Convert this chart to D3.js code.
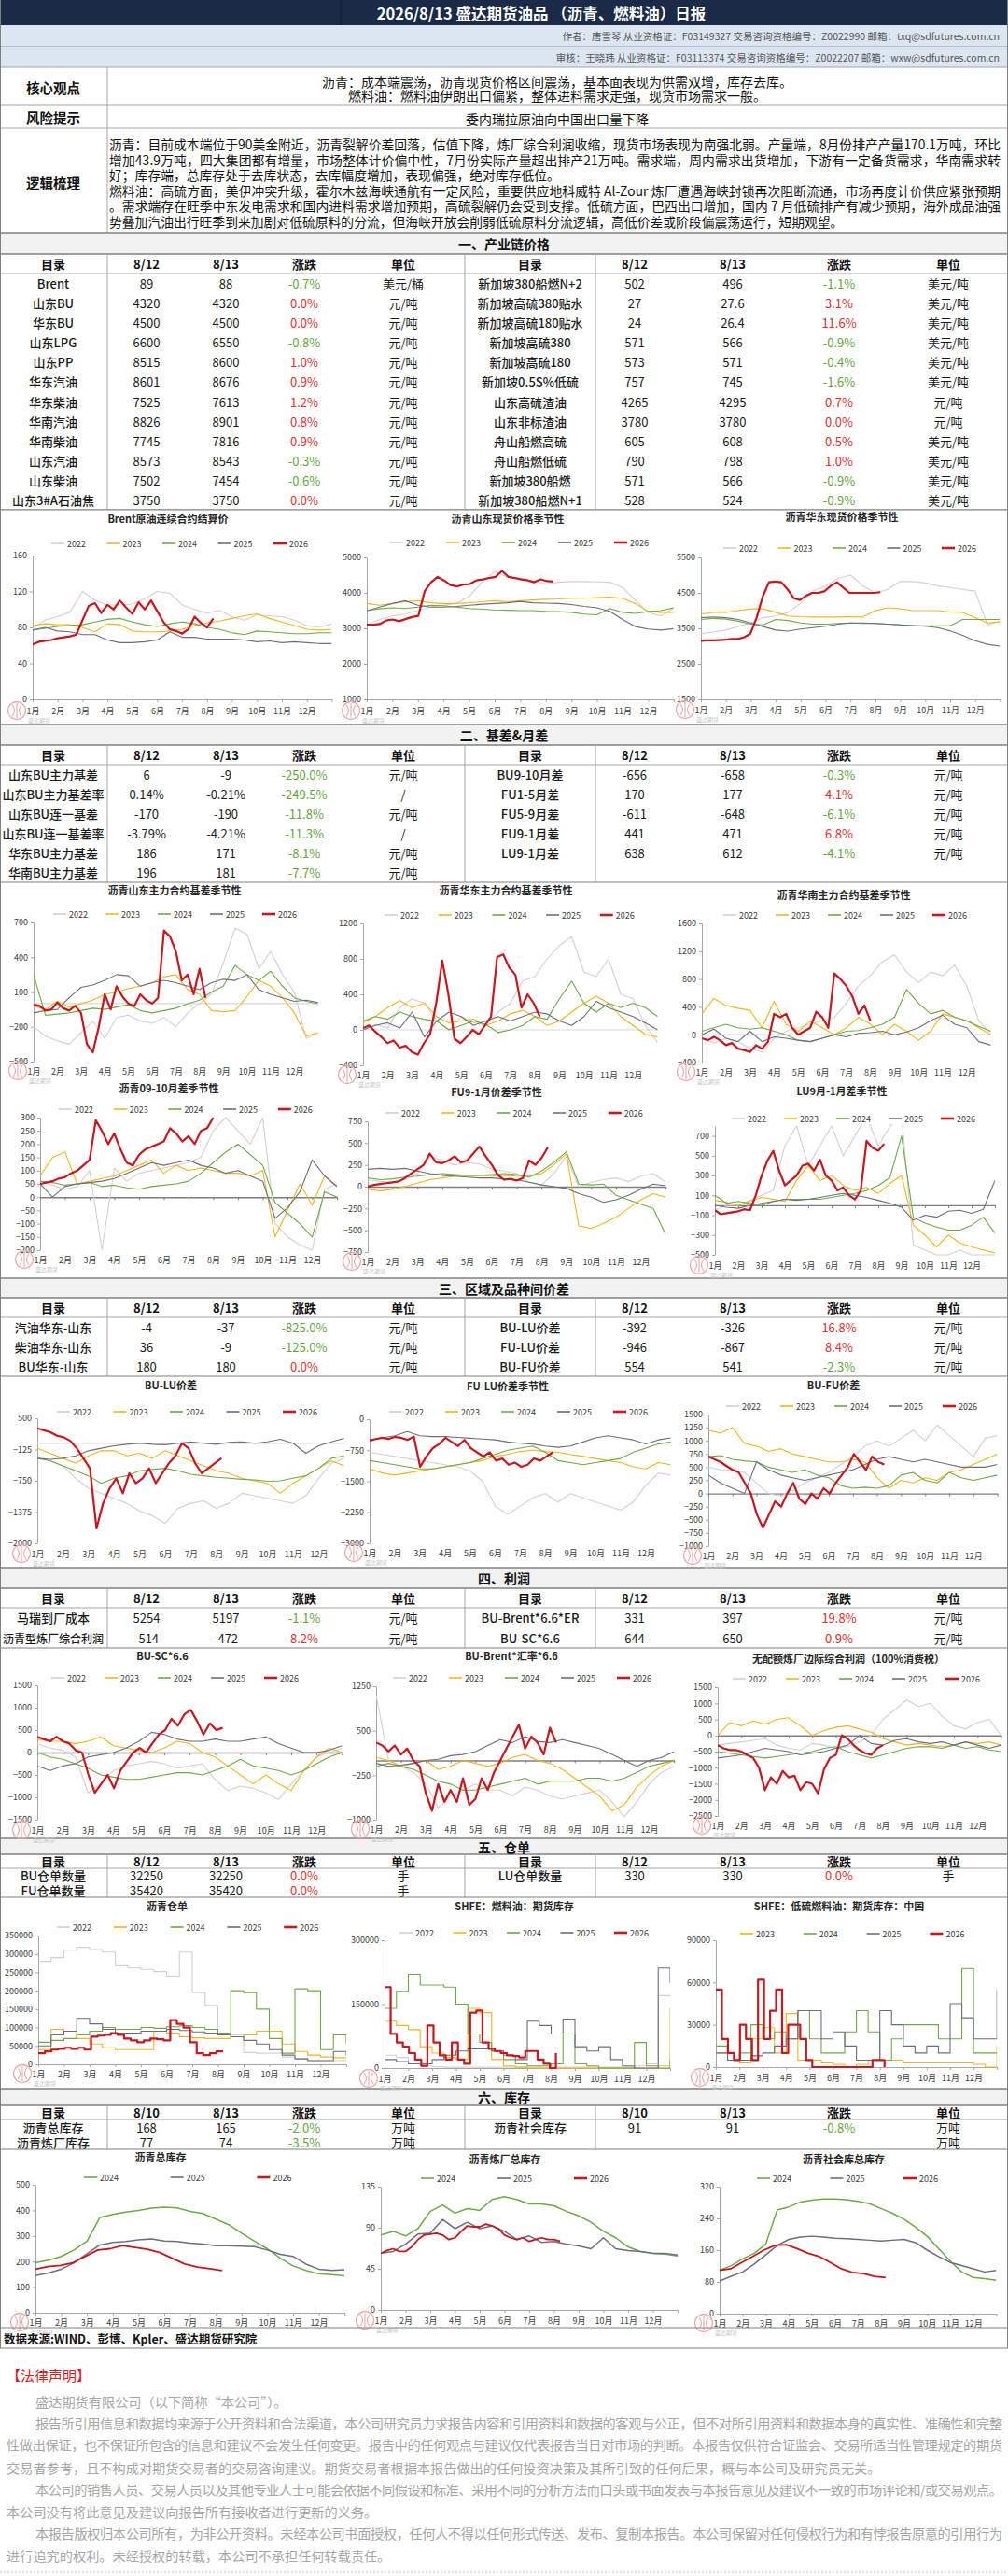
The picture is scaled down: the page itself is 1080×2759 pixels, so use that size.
<!DOCTYPE html>
<html>
<head>
<meta charset="utf-8">
<script src="https://cdn.jsdelivr.net/npm/d3@7"></script>
<style>
  body { margin: 0; background: #fff; }
  svg { display: block; }
  text { font-family: "Noto Sans CJK SC", "Noto Sans", sans-serif; }
</style>
</head>
<body>
<svg id="page" width="1080" height="2759"></svg>
<script>
// ---------- text ----------
var reportTitle = "2026/8/13  盛达期货油品 （沥青、燃料油）日报";
var authorLines = [
  "作者：唐雪琴  从业资格证：F03149327  交易咨询资格编号：Z0022990 邮箱：txq@sdfutures.com.cn",
  "审核：王晓玮  从业资格证：F03113374  交易咨询资格编号：Z0022207 邮箱：wxw@sdfutures.com.cn"
];
var coreView = [
  "沥青：成本端震荡，沥青现货价格区间震荡，基本面表现为供需双增，库存去库。",
  "燃料油：燃料油伊朗出口偏紧，整体进料需求走强，现货市场需求一般。"
];
var riskText = "委内瑞拉原油向中国出口量下降";
var logicLines = [
  "沥青：目前成本端位于90美金附近，沥青裂解价差回落，估值下降，炼厂综合利润收缩，现货市场表现为南强北弱。产量端，8月份排产产量170.1万吨，环比",
  "增加43.9万吨，四大集团都有增量，市场整体计价偏中性，7月份实际产量超出排产21万吨。需求端，周内需求出货增加，下游有一定备货需求，华南需求转",
  "好；库存端，总库存处于去库状态，去库幅度增加，表现偏强，绝对库存低位。",
  "燃料油：高硫方面，美伊冲突升级，霍尔木兹海峡通航有一定风险，重要供应地科威特 Al-Zour 炼厂遭遇海峡封锁再次阻断流通，市场再度计价供应紧张预期",
  "。需求端存在旺季中东发电需求和国内进料需求增加预期，高硫裂解仍会受到支撑。低硫方面，巴西出口增加，国内 7 月低硫排产有减少预期，海外成品油强",
  "势叠加汽油出行旺季到来加剧对低硫原料的分流，但海峡开放会削弱低硫原料分流逻辑，高低价差或阶段偏震荡运行，短期观望。"
];
var logicFull = [true, true, false, true, true, false];
var sourceText = "数据来源:WIND、彭博、Kpler、盛达期货研究院";
var legalTitle = "【法律声明】";
var legalLines = [
  "盛达期货有限公司（以下简称“本公司”）。",
  "报告所引用信息和数据均来源于公开资料和合法渠道，本公司研究员力求报告内容和引用资料和数据的客观与公正，但不对所引用资料和数据本身的真实性、准确性和完整",
  "性做出保证，也不保证所包含的信息和建议不会发生任何变更。报告中的任何观点与建议仅代表报告当日对市场的判断。本报告仅供符合证监会、交易所适当性管理规定的期货",
  "交易者参考，且不构成对期货交易者的交易咨询建议。期货交易者根据本报告做出的任何投资决策及其所引致的任何后果，概与本公司及研究员无关。",
  "本公司的销售人员、交易人员以及其他专业人士可能会依据不同假设和标准、采用不同的分析方法而口头或书面发表与本报告意见及建议不一致的市场评论和/或交易观点。",
  "本公司没有将此意见及建议向报告所有接收者进行更新的义务。",
  "本报告版权归本公司所有，为非公开资料。未经本公司书面授权，任何人不得以任何形式传送、发布、复制本报告。本公司保留对任何侵权行为和有悖报告原意的引用行为",
  "进行追究的权利。未经授权的转载，本公司不承担任何转载责任。"
];
var legalIndent = [true, true, false, false, true, false, true, false];
var legalFull = [false, true, true, false, true, false, true, false];

// ---------- tables ----------
var sectionTitles = ["一、产业链价格", "二、基差&月差", "三、区域及品种间价差", "四、利润", "五、仓单", "六、库存"];
var tableHeads = ["目录", "", "", "涨跌", "单位"];
var datesMain = ["8/12", "8/13"];
var datesStock = ["8/10", "8/13"];

var chainLeft = [
  ["Brent", "89", "88", "-0.7%", "美元/桶"],
  ["山东BU", "4320", "4320", "0.0%", "元/吨"],
  ["华东BU", "4500", "4500", "0.0%", "元/吨"],
  ["山东LPG", "6600", "6550", "-0.8%", "元/吨"],
  ["山东PP", "8515", "8600", "1.0%", "元/吨"],
  ["华东汽油", "8601", "8676", "0.9%", "元/吨"],
  ["华东柴油", "7525", "7613", "1.2%", "元/吨"],
  ["华南汽油", "8826", "8901", "0.8%", "元/吨"],
  ["华南柴油", "7745", "7816", "0.9%", "元/吨"],
  ["山东汽油", "8573", "8543", "-0.3%", "元/吨"],
  ["山东柴油", "7502", "7454", "-0.6%", "元/吨"],
  ["山东3#A石油焦", "3750", "3750", "0.0%", "元/吨"]
];
var chainRight = [
  ["新加坡380船燃N+2", "502", "496", "-1.1%", "美元/吨"],
  ["新加坡高硫380贴水", "27", "27.6", "3.1%", "美元/吨"],
  ["新加坡高硫180贴水", "24", "26.4", "11.6%", "美元/吨"],
  ["新加坡高硫380", "571", "566", "-0.9%", "美元/吨"],
  ["新加坡高硫180", "573", "571", "-0.4%", "美元/吨"],
  ["新加坡0.5S%低硫", "757", "745", "-1.6%", "美元/吨"],
  ["山东高硫渣油", "4265", "4295", "0.7%", "元/吨"],
  ["山东非标渣油", "3780", "3780", "0.0%", "元/吨"],
  ["舟山船燃高硫", "605", "608", "0.5%", "美元/吨"],
  ["舟山船燃低硫", "790", "798", "1.0%", "美元/吨"],
  ["新加坡380船燃", "571", "566", "-0.9%", "美元/吨"],
  ["新加坡380船燃N+1", "528", "524", "-0.9%", "美元/吨"]
];
var basisLeft = [
  ["山东BU主力基差", "6", "-9", "-250.0%", "元/吨"],
  ["山东BU主力基差率", "0.14%", "-0.21%", "-249.5%", "/"],
  ["山东BU连一基差", "-170", "-190", "-11.8%", "元/吨"],
  ["山东BU连一基差率", "-3.79%", "-4.21%", "-11.3%", "/"],
  ["华东BU主力基差", "186", "171", "-8.1%", "元/吨"],
  ["华南BU主力基差", "196", "181", "-7.7%", "元/吨"]
];
var basisRight = [
  ["BU9-10月差", "-656", "-658", "-0.3%", "元/吨"],
  ["FU1-5月差", "170", "177", "4.1%", "元/吨"],
  ["FU5-9月差", "-611", "-648", "-6.1%", "元/吨"],
  ["FU9-1月差", "441", "471", "6.8%", "元/吨"],
  ["LU9-1月差", "638", "612", "-4.1%", "元/吨"]
];
var spreadLeft = [
  ["汽油华东-山东", "-4", "-37", "-825.0%", "元/吨"],
  ["柴油华东-山东", "36", "-9", "-125.0%", "元/吨"],
  ["BU华东-山东", "180", "180", "0.0%", "元/吨"]
];
var spreadRight = [
  ["BU-LU价差", "-392", "-326", "16.8%", "元/吨"],
  ["FU-LU价差", "-946", "-867", "8.4%", "元/吨"],
  ["BU-FU价差", "554", "541", "-2.3%", "元/吨"]
];
var profitLeft = [
  ["马瑞到厂成本", "5254", "5197", "-1.1%", "元/吨"],
  ["沥青型炼厂综合利润", "-514", "-472", "8.2%", "元/吨"]
];
var profitRight = [
  ["BU-Brent*6.6*ER", "331", "397", "19.8%", "元/吨"],
  ["BU-SC*6.6", "644", "650", "0.9%", "元/吨"]
];
var warrantLeft = [
  ["BU仓单数量", "32250", "32250", "0.0%", "手"],
  ["FU仓单数量", "35420", "35420", "0.0%", "手"]
];
var warrantRight = [
  ["LU仓单数量", "330", "330", "0.0%", "手"]
];
var stockLeft = [
  ["沥青总库存", "168", "165", "-2.0%", "万吨"],
  ["沥青炼厂库存", "77", "74", "-3.5%", "万吨"]
];
var stockRight = [
  ["沥青社会库存", "91", "91", "-0.8%", "万吨"],
  ["", "", "", "", "万吨"]
];

// ---------- chart series (half-month readings; 2026 to mid-Aug) ----------
var years = ["2022", "2023", "2024", "2025", "2026"];
var yearColors = ["#d8cdd2", "#f2b61c", "#6dab44", "#6b6e82", "#c8171e"];
var monthLabels = ["1月", "2月", "3月", "4月", "5月", "6月", "7月", "8月", "9月", "10月", "11月", "12月"];

var brentVals = [
  [79,88,92,97,120,110,105,105,106,112,120,118,105,100,96,99,92,88,94,93,92,88,82,80,84],
  [82,84,83,83,80,75,84,83,76,75,75,76,78,82,85,87,90,93,95,90,86,82,78,77,78],
  [77,79,81,82,83,86,89,90,86,83,81,84,86,84,80,78,74,72,76,75,74,73,73,74,74],
  [77,80,76,75,72,72,66,63,63,64,66,75,69,69,67,67,67,66,64,65,63,64,63,62,62],
  [61,64,65,66,68,69,70,72,88,104,107,96,105,100,110,102,95,108,100,110,98,86,78,76,73,78,92,85,80,90]
];
var sdSpotVals = [
  [3100,3250,3350,3400,3500,3600,3650,3700,3900,4300,4600,4450,4400,4350,4250,4300,4320,4320,4310,4300,4150,3800,3450,3350,3580],
  [3700,3650,3700,3750,3780,3720,3700,3700,3720,3750,3780,3750,3780,3800,3820,3830,3850,3850,3870,3880,3850,3700,3480,3450,3450],
  [3500,3550,3580,3560,3600,3650,3640,3600,3560,3540,3520,3510,3500,3500,3480,3470,3450,3400,3380,3560,3450,3420,3470,3500,3580],
  [3500,3600,3700,3780,3650,3600,3600,3620,3650,3680,3700,3720,3760,3720,3710,3700,3670,3620,3580,3480,3250,3050,2980,2950,2990],
  [3100,3100,3120,3220,3250,3200,3260,3320,3350,4050,4300,4450,4350,4220,4180,4230,4250,4350,4380,4420,4450,4620,4450,4420,4380,4350,4300,4380,4330,4320]
];
var hdSpotVals = [
  [3350,3400,3450,3550,3650,3800,3850,3950,4200,4550,4700,4900,5000,4700,4500,4600,4820,4820,4780,4700,4650,4600,4550,3600,3700],
  [3900,3950,3950,4000,4050,4050,3950,3850,3830,3820,3820,3820,3830,3820,4000,4080,4050,4000,4000,4000,3960,3950,3800,3650,3680],
  [3750,3780,3760,3700,3620,3600,3750,3720,3650,3620,3620,3640,3650,3640,3640,3620,3600,3570,3570,3570,3570,3750,3750,3750,3750],
  [3800,3820,3800,3750,3650,3550,3450,3420,3480,3520,3560,3620,3650,3650,3640,3620,3600,3580,3560,3520,3430,3300,3150,3050,3000],
  [3150,3160,3160,3170,3180,3200,3200,3250,3350,3800,4400,4800,4820,4800,4600,4350,4300,4420,4500,4500,4550,4700,4800,4650,4500,4500,4500,4500,4500,4520]
];
var sdBasisVals = [
  [-200,-280,-320,-350,-250,-150,-300,-120,-100,-150,-170,-120,-200,-80,0,80,350,650,600,300,450,250,100,-300,-250],
  [-20,-50,20,-30,0,30,80,100,130,150,180,230,250,120,80,-60,-70,-60,60,200,150,50,-80,-280,-250],
  [250,-100,-90,-80,-60,-40,-50,-30,-10,-60,-80,-60,-40,0,30,100,150,330,250,200,280,150,50,20,0],
  [-80,-60,-50,50,140,160,200,250,240,150,180,200,180,150,120,180,210,200,250,120,80,50,20,30,10],
  [-10,-20,-60,-50,10,-40,-60,-20,-80,-350,-420,-200,80,-50,150,60,0,-20,80,30,0,50,630,580,450,200,250,80,300,50]
];
var hdBasisVals = [
  [0,60,20,250,350,300,100,0,150,80,50,200,300,550,600,800,950,1050,650,600,800,400,350,50,-150],
  [80,150,250,330,250,300,150,80,100,120,50,100,180,220,150,50,100,200,300,380,300,150,50,-50,-80],
  [100,150,120,200,150,120,100,0,50,100,60,-30,0,50,150,120,350,550,300,200,300,250,300,250,150],
  [0,50,80,20,200,-80,100,200,150,50,100,150,100,150,200,180,100,50,150,320,250,200,150,80,0],
  [20,50,-20,-80,-150,-120,-200,-180,-250,-280,-150,-50,300,780,400,-100,-150,-80,0,-50,50,150,820,850,700,620,250,400,300,150]
];
var hnBasisVals = [
  [-50,-120,-50,-100,-200,-250,-50,50,100,150,200,250,450,700,850,1050,1150,900,750,900,850,1000,700,200,20],
  [300,520,420,380,350,100,480,150,50,200,100,0,100,250,150,0,150,50,-80,50,300,250,200,100,0],
  [50,100,150,100,80,100,50,0,-80,-100,-50,0,50,60,100,150,250,650,450,300,350,250,200,120,50],
  [0,80,-50,-100,50,-100,-30,-50,-80,-100,-50,0,-30,20,30,50,0,40,100,200,280,150,100,-100,-150],
  [-50,-80,-30,-80,-150,-120,-200,-220,-250,-150,-200,-100,300,250,300,100,0,50,100,330,250,100,880,800,700,550,300,420,200]
];
var bu0910Vals = [
  [60,45,30,40,100,-200,110,60,90,100,110,120,130,150,250,300,250,200,300,-100,-150,-180,-200,30,50],
  [80,150,170,50,60,70,80,100,120,140,90,120,100,110,100,90,90,80,100,-150,-50,50,-30,80,40],
  [60,55,45,50,55,40,45,35,30,40,45,50,60,90,130,170,200,160,120,-20,-60,-100,-150,20,0],
  [50,0,40,50,55,60,70,90,110,130,120,130,140,120,110,90,100,80,60,-80,-40,20,140,80,40],
  [50,55,60,70,75,90,100,120,140,290,250,200,240,180,130,120,160,180,190,200,210,260,240,210,230,200,250,260,300]
];
var fu91Vals = [
  [80,60,50,80,150,350,300,250,280,260,200,180,150,50,20,150,350,0,50,80,100,60,120,150,50],
  [-30,-50,-30,0,40,80,100,120,130,130,120,130,120,120,150,250,380,-450,-480,-420,-350,-250,-150,-80,-120],
  [100,80,90,110,120,140,150,140,130,130,140,150,140,110,180,280,400,30,20,30,-100,-150,-200,-250,-550],
  [200,210,200,210,180,150,130,120,110,100,100,90,80,50,20,0,-20,-80,-120,-180,-150,-100,-30,30,10],
  [0,20,30,40,50,60,100,150,200,250,380,280,270,300,350,280,300,380,460,350,250,130,80,90,70,100,300,250,330,450]
];
var lu91Vals = [
  [-50,0,0,50,100,150,600,800,400,600,800,500,700,900,600,800,900,-400,-450,-500,-500,-450,-500,-500,-500],
  [50,30,0,40,80,60,40,250,400,250,300,200,150,180,120,220,300,-200,-300,-420,-300,-380,-420,-450,-480],
  [100,20,40,20,0,40,60,60,60,60,80,100,120,150,200,280,700,-120,-180,-220,-250,-250,-200,-120,-280],
  [0,-20,-30,0,20,40,60,50,60,80,100,120,100,80,50,20,-20,-150,-100,-120,-60,-50,-80,-40,250],
  [-50,-90,-80,-70,-60,-40,-50,100,300,450,550,350,200,250,300,400,420,350,460,300,250,150,180,100,60,150,650,580,550,620]
];
var buLuVals = [
  [-300,-350,-450,-700,-900,-1000,-1100,-1200,-1350,-1450,-1600,-1300,-1200,-1150,-1300,-1200,-1000,-1050,-1100,-1150,-1200,-1050,-700,-400,-300],
  [-100,-200,-300,-400,-250,-150,-150,-250,-200,-300,-150,-250,-350,-450,-550,-600,-700,-750,-800,-1000,-800,-650,-500,-350,-450],
  [-300,-350,-450,-550,-650,-800,-700,-650,-550,-520,-500,-550,-620,-650,-680,-700,-720,-730,-760,-750,-700,-650,-500,-300,-250],
  [-300,-320,-300,-250,-150,-100,-50,-20,0,-20,-30,0,30,0,-20,20,30,0,30,80,0,-200,-50,30,100],
  [300,260,220,150,120,50,-100,-300,-500,-1700,-1200,-900,-700,-1000,-600,-800,-700,-500,-800,-600,-400,-250,0,-100,-400,-600,-500,-400,-300]
];
var fuLuVals = [
  [-800,-850,-900,-950,-1000,-1050,-1100,-1150,-1250,-1500,-2100,-2300,-2100,-1900,-1800,-2000,-1800,-1900,-2000,-2100,-2200,-2000,-1600,-1300,-1350],
  [-1200,-1300,-1350,-1300,-1250,-1200,-1150,-1100,-1050,-1000,-900,-850,-780,-750,-780,-800,-850,-900,-950,-1000,-1050,-1150,-1200,-1050,-1100],
  [-1000,-1050,-1100,-1150,-1200,-1200,-1150,-1100,-1050,-950,-850,-750,-700,-650,-800,-1000,-1050,-1100,-1050,-1000,-950,-800,-700,-600,-550],
  [-500,-450,-400,-300,-400,-420,-420,-440,-460,-480,-500,-550,-580,-600,-650,-680,-650,-550,-450,-400,-450,-500,-600,-500,-450],
  [-520,-480,-450,-480,-430,-450,-500,-420,-1150,-900,-700,-600,-450,-550,-650,-500,-700,-800,-900,-800,-1000,-950,-1100,-1050,-1150,-1100,-950,-1000,-900,-800]
];
var buFuVals = [
  [500,450,450,400,200,0,-50,50,200,300,400,550,700,900,1000,900,1050,1200,1000,1300,1100,900,700,1050,1100],
  [1200,1150,1250,950,900,800,850,750,700,650,600,600,650,600,300,100,250,200,300,250,400,450,550,650,750],
  [700,720,650,620,600,500,450,400,450,350,300,150,100,120,100,150,350,400,250,200,400,300,250,300,350],
  [350,200,100,0,600,450,350,300,250,300,350,400,450,550,650,700,650,600,650,600,550,500,500,500,550],
  [700,650,600,520,450,400,200,0,-400,-650,-400,-150,-250,0,200,-100,-200,0,-100,100,0,200,350,500,750,600,450,700,600,550]
];
var buScVals = [
  [200,100,50,-100,-900,-700,-400,-300,-250,-200,-250,-350,-300,-250,-600,-850,-750,-800,-900,-1050,-700,-400,-100,0,100],
  [300,250,250,200,250,350,150,100,50,0,100,250,200,0,-100,-300,-500,-700,-500,-700,-850,-400,-100,100,0],
  [0,-100,-150,-250,-350,-500,-550,-600,-600,-550,-500,-450,-450,-500,-400,-300,-150,-300,-350,-400,-500,-400,-250,-100,0],
  [-300,-400,-300,-250,-100,-50,0,100,250,450,400,300,250,250,300,250,250,300,350,200,100,0,0,50,150],
  [350,300,250,350,250,200,50,0,-500,-900,-700,-500,-800,-400,-200,0,100,0,200,400,500,750,600,850,950,700,400,650,500,550]
];
var buBrentVals = [
  [1100,0,-100,-200,-400,-800,-600,-500,-400,-500,-500,-600,-450,-500,-600,-650,-600,-550,-500,-700,-950,-700,-400,-200,-100],
  [50,0,-100,-50,0,-150,-100,0,-50,-100,-50,50,100,0,-50,-150,-300,-450,-600,-850,-750,-450,-250,-100,0],
  [-100,-50,-100,-150,-250,-350,-400,-500,-500,-450,-400,-350,-300,-400,-350,-350,-350,-300,-300,-350,-300,-200,-100,-50,0],
  [-50,-100,-80,-50,0,20,80,100,150,250,350,300,400,320,300,350,300,250,200,100,0,-100,0,50,150],
  [300,250,150,250,100,200,0,-100,-550,-850,-400,-700,-500,-700,-300,-750,-650,-300,-500,-200,0,200,400,600,200,400,300,100,550,300]
];
var noQuotaVals = [
  [-300,-250,-200,-150,-100,-300,-400,-450,-250,-300,-400,-350,-200,0,500,800,1100,900,1000,600,300,200,400,500,0],
  [0,400,300,450,350,500,550,300,0,150,250,300,200,100,-100,-200,-300,-250,-300,-350,-300,-200,-250,-200,-300],
  [-500,-550,-600,-650,-700,-650,-600,-550,-500,-400,-350,-500,-600,-700,-600,-500,-400,-350,-350,-400,-300,-400,-350,-450,-500],
  [-700,-650,-600,-500,-400,-450,-500,-600,-550,-500,-400,-300,0,-250,-300,-150,-100,-200,-250,-200,-300,-200,-300,-400,-300],
  [-300,-400,-450,-450,-500,-600,-700,-1000,-1700,-1300,-1500,-1100,-1300,-1250,-1700,-1450,-1500,-1800,-1050,-700,-600,0,-100,-300,-450,-550,-600,-400,-300]
];
var buWarrantVals = [
  [280000,290000,310000,318000,312000,305000,268000,262000,258000,252000,240000,305000,195000,160000,85000,80000,32000,30000,30000,20000,15000,10000,10000,10000,10000],
  [40000,95000,90000,70000,55000,45000,40000,40000,40000,90000,85000,75000,72000,70000,70000,75000,80000,90000,90000,55000,35000,25000,20000,18000,18000],
  [60000,65000,70000,80000,90000,100000,95000,95000,100000,98000,102000,105000,100000,95000,85000,200000,195000,150000,70000,30000,205000,200000,40000,80000,55000],
  [50000,80000,90000,125000,110000,95000,85000,85000,90000,90000,95000,92000,88000,85000,80000,75000,65000,55000,40000,25000,15000,10000,10000,35000,25000],
  [30000,35000,40000,42000,45000,42000,45000,40000,75000,78000,80000,85000,80000,70000,65000,60000,65000,70000,68000,65000,120000,110000,100000,60000,30000,25000,30000,35000,35000]
];
var fuStockVals = [
  [30000,25000,10000,5000,3000,2000,2000,2000,2000,2000,2000,2000,2000,2000,2000,2000,2000,2000,2000,2000,2000,5000,10000,170000,165000],
  [110000,100000,90000,50000,35000,25000,20000,140000,130000,20000,5000,2000,0,0,0,0,0,0,0,0,0,0,0,5000,140000],
  [140000,180000,220000,195000,195000,190000,150000,80000,60000,40000,20000,10000,5000,5000,10000,80000,10000,5000,0,0,0,60000,5000,0,20000],
  [20000,15000,10000,10000,20000,30000,40000,45000,45000,40000,30000,20000,110000,100000,80000,115000,50000,40000,50000,20000,5000,0,0,235000,200000],
  [190000,80000,60000,50000,35000,20000,5000,100000,60000,30000,20000,60000,20000,10000,130000,135000,60000,45000,40000,35000,30000,28000,25000,40000,40000,20000,10000,0,35000]
];
var luStockVals = [
  [10000,5000,3000,20000,28000,10000,38000,5000,5000,3000,2000,0,2000,5000,5000,5000,3000,3000,3000,3000,3000,3000,2000,0,15000],
  [15000,5000,10000,30000,20000,25000,20000,40000,20000,10000,10000,25000,40000,25000,5000,20000,30000,30000,30000,20000,20000,70000,10000,10000,10000],
  [10000,5000,5000,8000,10000,15000,20000,40000,40000,20000,25000,15000,5000,5000,40000,30000,15000,10000,15000,10000,45000,35000,20000,20000,55000],
  [55000,20000,10000,5000,30000,20000,5000,62000,20000,40000,55000,10000,30000,30000,20000,5000,0,0,0,0,0,0,0,0,0,0,5000,5000,0]
];
var totalStockVals = [
  [195,205,220,245,280,372,384,393,400,409,412,410,396,388,366,344,311,280,250,213,183,165,152,149,144],
  [145,155,170,195,230,265,275,278,285,288,280,278,272,268,262,262,260,258,245,228,220,190,170,165,168],
  [170,180,185,195,220,245,250,262,255,248,235,212,190,178,172,165]
];
var refineryStockVals = [
  [82,86,81,89,108,115,106,111,109,121,124,121,116,116,114,108,103,96,86,79,69,64,62,61,59],
  [62,64,72,83,84,99,89,96,89,92,86,77,81,74,75,72,70,67,79,67,65,64,62,62,60],
  [62,65,67,64,64,69,77,82,83,84,82,77,79,86,92,91,91,94,92,89,82,79,77,79,75,77,79,77,77,75]
];
var socialStockVals = [
  [109,121,138,152,175,261,269,281,286,289,289,287,283,277,265,253,238,218,195,164,133,105,91,88,84],
  [82,94,105,125,148,172,187,193,195,193,190,189,187,185,183,185,187,179,160,144,129,121,113,105,109],
  [109,113,129,144,160,172,174,164,152,144,129,113,104,101,94,91]
];

// ---------- layout of each chart panel ----------
var charts = [
  {title:"Brent原油连续合约结算价", vals:brentVals, end26:7.25, yrs:[0,1,2,3,4], x0:35, w:26.7, yTop:595, yBot:749, dom:[0,160], step:40, tx:180, ty:555, lx:55, ly:582, ls:59.5, lab:762, base:"bottom"},
  {title:"沥青山东现货价格季节性", vals:sdSpotVals, end26:7.3, yrs:[0,1,2,3,4], x0:393, w:27.4, yTop:597, yBot:749, dom:[1000,5000], step:1000, tx:544, ty:555, lx:418, ly:581, ls:60, lab:762, base:"bottom"},
  {title:"沥青华东现货价格季节性", vals:hdSpotVals, end26:7.2, yrs:[0,1,2,3,4], x0:751, w:26.7, yTop:597, yBot:749, dom:[1500,5500], step:1000, tx:902, ty:553, lx:775, ly:587, ls:58.5, lab:761, base:"bottom"},
  {title:"沥青山东主力合约基差季节性", vals:sdBasisVals, end26:7.25, yrs:[0,1,2,3,4], x0:36, w:25.4, yTop:988, yBot:1137, dom:[-500,700], step:300, tx:187, ty:953, lx:57, ly:979, ls:56, lab:1148, base:"light"},
  {title:"沥青华东主力合约基差季节性", vals:hdBasisVals, end26:7.2, yrs:[0,1,2,3,4], x0:389, w:26.3, yTop:989, yBot:1141, dom:[-400,1200], step:400, tx:542, ty:953, lx:412, ly:980, ls:57.7, lab:1152, base:"light"},
  {title:"沥青华南主力合约基差季节性", vals:hnBasisVals, end26:7.0, yrs:[0,1,2,3,4], x0:752, w:25.8, yTop:989, yBot:1138, dom:[-400,1600], step:400, tx:904, ty:958, lx:775, ly:980, ls:56, lab:1149, base:"light"},
  {title:"沥青09-10月差季节性", vals:bu0910Vals, end26:7.0, yrs:[0,1,2,3,4], x0:43, w:26.5, yTop:1197, yBot:1339, dom:[-200,300], step:50, tx:181, ty:1165, lx:63, ly:1188, ls:58.7, lab:1350, base:"dark"},
  {title:"FU9-1月价差季节性", vals:fu91Vals, end26:7.25, yrs:[0,1,2,3,4], x0:394, w:26.6, yTop:1201, yBot:1341, dom:[-750,750], step:250, tx:532, ty:1169, lx:413, ly:1192, ls:59.7, lab:1352, base:"dark"},
  {title:"LU9月-1月差季节性", vals:lu91Vals, end26:7.25, yrs:[0,1,2,3,4], x0:766, w:25, yTop:1206, yBot:1344, dom:[-500,800], ticks:[-500,-300,-100,100,300,500,700], tx:902, ty:1168, lx:784, ly:1198, ls:56, lab:1356, base:"dark"},
  {title:"BU-LU价差", vals:buLuVals, end26:7.2, yrs:[0,1,2,3,4], x0:40, w:27.4, yTop:1519, yBot:1653, dom:[-2000,500], step:625, tx:183, ty:1483, lx:61, ly:1512, ls:60.5, lab:1665, base:"light"},
  {title:"FU-LU价差季节性", vals:fuLuVals, end26:7.3, yrs:[0,1,2,3,4], x0:396, w:26.9, yTop:1520, yBot:1653, dom:[-3000,0], step:750, tx:544, ty:1484, lx:417, ly:1512, ls:60, lab:1664, base:"none"},
  {title:"BU-FU价差", vals:buFuVals, end26:7.3, yrs:[0,1,2,3,4], x0:759, w:25.8, yTop:1515, yBot:1656, dom:[-1000,1500], step:250, tx:893, ty:1483, lx:778, ly:1506, ls:58, lab:1667, base:"dark"},
  {title:"BU-SC*6.6", vals:buScVals, end26:7.3, yrs:[0,1,2,3,4], x0:40, w:27.2, yTop:1805, yBot:1949, dom:[-1500,1500], step:500, tx:174, ty:1773, lx:55, ly:1797, ls:57, lab:1961, base:"dark"},
  {title:"BU-Brent*汇率*6.6", vals:buBrentVals, end26:7.25, yrs:[0,1,2,3,4], x0:403, w:26.6, yTop:1806, yBot:1949, dom:[-1000,1250], step:750, tx:548, ty:1773, lx:421, ly:1797, ls:60, lab:1960, base:"dark"},
  {title:"无配额炼厂边际综合利润（100%消费税）", vals:noQuotaVals, end26:7.0, yrs:[0,1,2,3,4], x0:769, w:25.3, yTop:1807, yBot:1945, dom:[-2500,1500], step:500, tx:909, ty:1776, lx:785, ly:1798, ls:57, lab:1956, base:"dark"},
  {title:"沥青仓单", vals:buWarrantVals, end26:7.2, yrs:[0,1,2,3,4], x0:41, w:27.5, yTop:2073, yBot:2211, dom:[0,350000], step:50000, tx:179, ty:2041, lx:61, ly:2064, ls:60.8, lab:2222, base:"bottom", stepped:true},
  {title:"SHFE：燃料油：期货库存", vals:fuStockVals, end26:7.2, yrs:[0,1,2,3,4], x0:412, w:25.5, yTop:2078, yBot:2215, dom:[0,300000], step:150000, tx:551, ty:2041, lx:428, ly:2070, ls:57.5, lab:2227, base:"bottom", stepped:true},
  {title:"SHFE：低硫燃料油：期货库存：中国", vals:luStockVals, end26:7.2, yrs:[1,2,3,4], x0:767, w:25.1, yTop:2078, yBot:2214, dom:[0,90000], step:30000, tx:899, ty:2041, lx:793, ly:2071, ls:67.8, lab:2226, base:"bottom", stepped:true},
  {title:"沥青总库存", vals:totalStockVals, end26:7.25, yrs:[2,3,4], x0:38, w:27.6, yTop:2340, yBot:2477, dom:[0,500], step:100, tx:172, ty:2310, lx:90, ly:2332, ls:92.7, lab:2488, base:"bottom", thick:true},
  {title:"沥青炼厂总库存", vals:refineryStockVals, end26:7.25, yrs:[2,3,4], x0:408, w:26.5, yTop:2342, yBot:2474, dom:[0,135], step:45, tx:541, ty:2312, lx:451, ly:2333, ls:82, lab:2486, base:"bottom", thick:true},
  {title:"沥青社会库总库存", vals:socialStockVals, end26:7.2, yrs:[2,3,4], x0:771, w:24.7, yTop:2342, yBot:2478, dom:[0,320], step:80, tx:904, ty:2312, lx:811, ly:2333, ls:78.5, lab:2489, base:"bottom", thick:true}
];

// ---------- drawing ----------
var FONT = '"Noto Sans CJK SC","Noto Sans",sans-serif';
var svg = d3.select("#page");
var GRID = "#a6a6a6";

function txt(g, x, y, s, o) {
  o = o || {};
  var t = g.append("text").attr("x", x).attr("y", y)
    .attr("text-anchor", o.anchor || "middle")
    .attr("dominant-baseline", "central")
    .attr("font-size", o.size || 13)
    .attr("font-weight", o.weight || 400)
    .attr("fill", o.fill || "#111")
    .text(s);
  if (o.len) t.attr("textLength", o.len).attr("lengthAdjust", "spacing");
  return t;
}
function hline(y, x1, x2, color, w) {
  svg.append("line").attr("x1", x1).attr("x2", x2).attr("y1", y).attr("y2", y)
    .attr("stroke", color || GRID).attr("stroke-width", w || 1);
}
function vline(x, y1, y2, color, w) {
  svg.append("line").attr("x1", x).attr("x2", x).attr("y1", y1).attr("y2", y2)
    .attr("stroke", color || GRID).attr("stroke-width", w || 1);
}
function fitSize(s, size, maxW) {
  var w = 0;
  for (var c of s) w += c.charCodeAt(0) > 255 ? 1 : 0.58;
  w *= size;
  return w > maxW ? size * maxW / w : size;
}

// header block
svg.append("rect").attr("x", 0).attr("y", 0).attr("width", 1080).attr("height", 27).attr("fill", "#1b2b47");
vline(365, 0, 27, "#0e1a30");
txt(svg, 580, 13.5, reportTitle, {size: 16.5, weight: 700, fill: "#fff"});
svg.append("rect").attr("x", 0).attr("y", 27).attr("width", 1080).attr("height", 45).attr("fill", "#dce6f1");
hline(49.5, 0, 1080, "#b3bfcc");
authorLines.forEach(function (s, i) {
  txt(svg, 1071, 38.5 + i * 23, s, {size: 10.5, anchor: "end", fill: "#555"});
});
[72, 112, 137].forEach(function (y) { hline(y, 0, 1080); });
vline(115, 72, 250);
txt(svg, 57, 93, "核心观点", {size: 14.5, weight: 700});
txt(svg, 57, 125, "风险提示", {size: 14.5, weight: 700});
txt(svg, 57, 195, "逻辑梳理", {size: 14.5, weight: 700});
coreView.forEach(function (s, i) { txt(svg, 597, 87 + i * 14.8, s, {size: 14}); });
txt(svg, 597, 126.5, riskText, {size: 14});
logicLines.forEach(function (s, i) {
  txt(svg, 117, 154 + i * 16.5, s, {size: 13.8, anchor: "start", len: logicFull[i] ? 955 : null});
});

// tables
var colL = [57, 157, 242, 326, 432];
var colR = [568, 680, 785, 899, 1016];

function sectionBar(y0, h, label) {
  svg.append("rect").attr("x", 0).attr("y", y0).attr("width", 1080).attr("height", h).attr("fill", "#f2f2f2");
  hline(y0, 0, 1080, "#808080", 1.5);
  hline(y0 + h, 0, 1080, "#808080", 1.5);
  txt(svg, 540, y0 + h / 2, label, {size: 14, weight: 700});
}
function drawRow(r, cols, cy, maxW) {
  r.forEach(function (v, i) {
    if (v === "") return;
    var o = {size: 13, fill: "#1a1a1a"};
    if (i === 0) { o.size = fitSize(v, 13, maxW); o.weight = 500; }
    if (i === 3) o.fill = v.charAt(0) === "-" ? "#5fa73c" : "#e0302c";
    txt(svg, cols[i], cy, v, o);
  });
}
function drawTable(y0, hh, rh, dates, left, right) {
  var heads = tableHeads.slice();
  heads[1] = dates[0]; heads[2] = dates[1];
  heads.forEach(function (h, i) {
    txt(svg, colL[i], y0 + hh / 2, h, {size: 13, weight: 700});
    txt(svg, colR[i], y0 + hh / 2, h, {size: 13, weight: 700});
  });
  hline(y0 + hh, 0, 1080);
  left.forEach(function (r, j) { drawRow(r, colL, y0 + hh + rh * j + rh / 2, 108); });
  right.forEach(function (r, j) { drawRow(r, colR, y0 + hh + rh * j + rh / 2, 134); });
  var yEnd = y0 + hh + rh * Math.max(left.length, right.length);
  [115, 498, 638].forEach(function (x) { vline(x, y0, yEnd); });
  hline(yEnd, 0, 1080, "#808080", 1.2);
}

sectionBar(250, 22, sectionTitles[0]);
drawTable(272, 21, 21.08, datesMain, chainLeft, chainRight);
sectionBar(776, 22, sectionTitles[1]);
drawTable(798, 21, 21, datesMain, basisLeft, basisRight);
sectionBar(1369, 21, sectionTitles[2]);
drawTable(1390, 21, 21, datesMain, spreadLeft, spreadRight);
sectionBar(1679, 22, sectionTitles[3]);
drawTable(1701, 21, 21.5, datesMain, profitLeft, profitRight);
sectionBar(1969, 17, sectionTitles[4]);
drawTable(1986, 15, 15.5, datesMain, warrantLeft, warrantRight);
sectionBar(2237, 18, sectionTitles[5]);
drawTable(2255, 15, 16, datesStock, stockLeft, stockRight);

// charts
function styleAxis(a, color) {
  a.select(".domain").attr("stroke", color);
  a.selectAll(".tick line").attr("stroke", color);
  a.selectAll("text").attr("font-size", 9).attr("fill", "#404040").attr("font-family", FONT);
}
// company watermark: circle mark beside the month labels, small name just below them
function logo(g, cx, cy) {
  g.append("circle").attr("cx", cx).attr("cy", cy).attr("r", 9.5)
    .attr("fill", "none").attr("stroke", "#eba9a9").attr("stroke-width", 1.3);
  g.append("path")
    .attr("d", "M" + (cx - 5) + "," + (cy - 6) + "Q" + cx + "," + cy + " " + (cx - 5) + "," + (cy + 6) +
               "M" + (cx + 5) + "," + (cy - 6) + "Q" + cx + "," + cy + " " + (cx + 5) + "," + (cy + 6) +
               "M" + cx + "," + (cy - 8) + "L" + cx + "," + (cy + 8))
    .attr("fill", "none").attr("stroke", "#eba9a9").attr("stroke-width", 1.1);
  txt(g, cx + 12, cy + 10, "盛达期货", {size: 6, anchor: "start", fill: "#c8c8c8"});
}

function drawChart(s, idx) {
  var g = svg.append("g");
  var x = d3.scaleLinear().domain([0, 12]).range([s.x0, s.x0 + 12 * s.w]);
  var y = d3.scaleLinear().domain(s.dom).range([s.yBot, s.yTop]);

  txt(g, s.tx, s.ty, s.title, {size: 11, weight: 700, fill: "#262626"});

  s.yrs.forEach(function (k, j) {
    var lx = s.lx + j * s.ls;
    g.append("line").attr("x1", lx).attr("x2", lx + 14).attr("y1", s.ly).attr("y2", s.ly)
      .attr("stroke", yearColors[k]).attr("stroke-width", k === 4 ? 2.6 : 1.6);
    txt(g, lx + 17, s.ly, years[k], {size: 9, anchor: "start", fill: "#404040"});
  });

  var ticks = s.ticks || d3.range(s.dom[0], s.dom[1] + s.step / 2, s.step);
  var ya = g.append("g").attr("transform", "translate(" + s.x0 + ",0)")
    .call(d3.axisLeft(y).tickValues(ticks).tickSize(3).tickSizeOuter(0).tickPadding(3).tickFormat(d3.format("d")));
  styleAxis(ya, GRID);

  if (s.base === "bottom" || s.base === "dark") {
    var by = s.base === "bottom" ? y(s.dom[0]) : y(0);
    var xa = g.append("g").attr("transform", "translate(0," + by + ")")
      .call(d3.axisBottom(x).tickValues(d3.range(13)).tickSize(3).tickSizeOuter(0).tickFormat(function () { return ""; }));
    styleAxis(xa, s.base === "dark" ? "#7f7f7f" : GRID);
    if (s.base === "dark") xa.select(".domain").attr("stroke-width", 1.4);
  } else if (s.base === "light") {
    g.append("line").attr("x1", x(0)).attr("x2", x(12)).attr("y1", y(0)).attr("y2", y(0))
      .attr("stroke", "#d9d9d9").attr("stroke-width", 1.2);
  }

  var ml = g.append("g").attr("transform", "translate(0," + s.lab + ")")
    .call(d3.axisBottom(x).tickValues(d3.range(12)).tickSize(0).tickPadding(0)
      .tickFormat(function (i) { return monthLabels[i]; }));
  ml.select(".domain").remove();
  ml.selectAll("text").attr("dy", "0.35em").attr("font-size", 9).attr("fill", "#404040").attr("font-family", FONT);

  var cid = "clip" + idx;
  g.append("clipPath").attr("id", cid).append("rect")
    .attr("x", s.x0).attr("y", s.yTop - 2).attr("width", 12 * s.w).attr("height", s.yBot - s.yTop + 4);

  var line = d3.line()
    .x(function (d) { return x(d[0]); })
    .y(function (d) { return y(d[1]); })
    .curve(s.stepped ? d3.curveStepAfter : d3.curveLinear);

  s.yrs.forEach(function (k, j) {
    var v = s.vals[j];
    var end = k === 4 ? s.end26 : 12;
    var pts = v.map(function (d, i) { return [i * end / (v.length - 1), d]; });
    g.append("path").attr("clip-path", "url(#" + cid + ")").datum(pts).attr("d", line)
      .attr("fill", "none").attr("stroke", yearColors[k])
      .attr("stroke-width", k === 4 ? (s.thick ? 1.8 : 2.2) : (s.thick ? 1.5 : 1.1))
      .attr("stroke-linejoin", "round");
  });

  logo(g, s.x0 - 17, s.lab - 1);
}
charts.forEach(drawChart);

// frame, source and legal
vline(0.5, 0, 2515, "#808080");
vline(1079.5, 0, 2515, "#808080");
hline(2493, 0, 1080, "#808080", 1.2);
hline(2515, 0, 1080, "#808080", 1.2);
txt(svg, 4, 2504, sourceText, {size: 12.5, weight: 700, anchor: "start"});

txt(svg, 7, 2543, legalTitle, {size: 15, anchor: "start", fill: "#e0201c"});
var legalY = [2572, 2595, 2618, 2643, 2666, 2690, 2713, 2737];
legalLines.forEach(function (s, i) {
  var x0 = legalIndent[i] ? 38 : 7;
  txt(svg, x0, legalY[i], s, {size: 14.2, anchor: "start", fill: "#a6a6a6", len: legalFull[i] ? 1074 - x0 : null});
});
svg.append("line").attr("x1", 0).attr("x2", 1080).attr("y1", 2755).attr("y2", 2755)
  .attr("stroke", "#bfbfbf").attr("stroke-dasharray", "2,2");
</script>
</body>
</html>
